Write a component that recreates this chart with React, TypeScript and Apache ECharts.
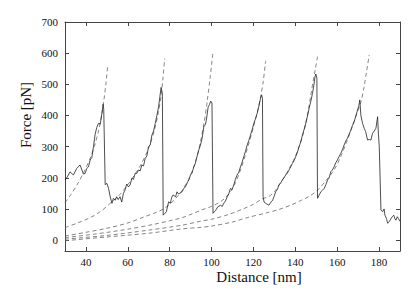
import React, { useEffect, useRef } from "react";
import * as echarts from "echarts";

const distance = [
  30, 31.1, 32.4, 34, 35.6, 37.2, 38.8, 39.6, 40.4, 41.2, 42, 42.8, 43.6, 44.4, 45.2, 46, 46.8, 47.6, 48.2, 48.5,
  49.2, 50, 50.8, 51.6, 52.4, 53.1, 54, 54.7, 55.4, 56.3, 57.1, 57.9, 58.7, 59.5, 60.3, 61.1, 61.9, 62.7, 63.5, 64.3,
  65.1, 65.9, 66.7, 67.5, 68.3, 69.1, 69.9, 70.7, 71.5, 72.3, 73.1, 73.9, 74.7, 75.3, 75.9, 76.5, 76.9, 77.6, 78.4, 79.5,
  80.3, 81, 81.6, 82.8, 83.5, 84.2, 84.8, 85.9, 86.7, 87.5, 88.6, 89.3, 89.9, 90.7, 91.5, 92.2, 92.8, 93.9, 94.7, 95.5,
  96.3, 97, 97.5, 98.4, 99, 99.6, 100.2, 100.7, 101.3, 101.9, 103, 104.3, 105.1, 105.8, 106.6, 107.5, 108.3, 109, 109.8, 110.6,
  111.4, 112.2, 113, 113.8, 114.6, 115.4, 116.2, 117, 117.8, 118.6, 119.4, 120.2, 121, 121.8, 122.6, 123.4, 123.9, 124.3, 124.6, 125.1,
  125.8, 126.6, 127.4, 128.5, 129.2, 129.8, 130.6, 131.4, 132.2, 133, 133.8, 134.6, 135.4, 136.2, 137, 137.8, 138.6, 139.4, 140.2, 141,
  141.8, 142.6, 143.4, 144.2, 145, 145.8, 146.6, 147.4, 148.2, 148.8, 149.4, 149.8, 150.3, 150.6, 151.4, 152.2, 153, 153.8, 154.6, 155.4,
  156.2, 156.9, 157.7, 158.5, 159.3, 160.1, 160.9, 161.7, 162.5, 163.3, 164.1, 164.9, 165.7, 166.5, 167.3, 168.1, 168.9, 169.7, 170.3, 170.8,
  171.3, 172.1, 172.9, 173.6, 174.5, 175.3, 176.1, 176.9, 177.7, 178.5, 179.3, 179.7, 180.1, 180.9, 181.7, 182.4, 182.8, 183.5, 184.1, 184.9,
  185.6, 186.3, 187, 187.6, 188.1, 188.7, 189.2, 190,
];

const force = [
  193, 203, 219, 209, 230, 241, 212, 214, 230, 235, 257, 265, 300, 340, 362, 375, 372, 405, 436, 420,
  178, 182, 166, 139, 118, 134, 128, 139, 130, 139, 122, 150, 161, 180, 171, 177, 198, 195, 214, 214,
  225, 222, 241, 238, 262, 270, 300, 305, 337, 350, 375, 400, 428, 460, 490, 470, 80, 85, 91, 123,
  118, 138, 145, 139, 155, 148, 150, 155, 165, 171, 187, 195, 209, 215, 235, 245, 262, 289, 305, 327,
  364, 370, 385, 428, 435, 446, 440, 86, 91, 95, 107, 112, 108, 118, 125, 139, 150, 166, 162, 177,
  195, 209, 218, 235, 250, 268, 285, 305, 320, 337, 355, 375, 390, 407, 430, 455, 466, 455, 139, 122,
  118, 115, 112, 123, 128, 139, 155, 162, 177, 183, 193, 200, 209, 215, 225, 235, 246, 255, 268, 282,
  300, 315, 337, 355, 375, 398, 423, 445, 471, 495, 524, 533, 520, 134, 145, 155, 160, 166, 178, 193,
  200, 219, 225, 235, 248, 257, 268, 278, 290, 305, 318, 327, 340, 353, 368, 380, 398, 417, 430, 450,
  401, 375, 359, 348, 321, 323, 321, 343, 350, 359, 396, 340, 300, 96, 91, 100, 80, 70, 54, 60,
  68, 75, 80, 68, 64, 75, 70, 60,
];

const fit1: [number, number][] = [
  [30, 120], [33, 148], [36, 180], [39, 218], [42, 262], [44, 300], [46, 350], [47.5, 400], [48.6, 450], [49.6, 505], [50.4, 562],
];
const fit2: [number, number][] = [
  [30, 40], [36, 55], [42, 72], [47, 92], [51.6, 118], [56, 145], [60, 178], [63.5, 212], [66.5, 245], [69, 280],
  [71, 315], [73, 360], [74.6, 410], [75.8, 460], [76.8, 520], [77.6, 583],
];
const fit3: [number, number][] = [
  [30, 13], [40, 25], [50, 38], [60, 55], [68, 75], [74, 90], [77, 100], [80, 115], [83, 135], [86, 160],
  [89, 195], [91.5, 235], [93.2, 272], [94.7, 315], [96.4, 375], [97.9, 445], [99.3, 520], [100.6, 600],
];
const fit4: [number, number][] = [
  [30, 8], [45, 20], [60, 35], [72, 50], [80, 62], [86, 72], [91, 85], [95, 96], [99.5, 107], [103, 118],
  [106, 132], [109, 155], [111.5, 185], [113.8, 225], [116, 270], [118, 315], [120, 362], [121.8, 410], [123.3, 455],
  [124.7, 510], [125.8, 575],
];
const fit5: [number, number][] = [
  [30, 3], [50, 15], [70, 32], [86, 48], [95, 61], [100, 67], [108, 82], [115, 100], [120, 115], [124.2, 132],
  [127.4, 140], [130, 155], [132.5, 180], [135, 205], [137.5, 235], [139.8, 265], [141.8, 300], [143.5, 335],
  [145, 375], [146.3, 420], [147.4, 465], [148.5, 510], [149.6, 550], [150.6, 589],
];
const fit6: [number, number][] = [
  [30, -2], [50, 10], [70, 22], [86, 36], [95, 41], [100, 45], [110, 58], [117, 72], [126.6, 88], [132, 98],
  [137.8, 112], [143, 128], [147, 142], [150.6, 160], [154.5, 190], [158.5, 225], [161.5, 265], [164.5, 315],
  [167, 360], [169.3, 405], [171.3, 442], [172.8, 490], [174, 540], [175.3, 594],
];

const xTicks = [40, 60, 80, 100, 120, 140, 160, 180];
const yTicks = [0, 100, 200, 300, 400, 500, 600, 700];
const xTitle = "Distance [nm]";
const yTitle = "Force [pN]";

export default function App() {
  const ref = useRef<HTMLDivElement>(null);
  useEffect(() => {
    document.body.style.margin = "0";
    const chart = echarts.init(ref.current!, null, { renderer: "svg" });
    const font = "Times New Roman, Liberation Serif, DejaVu Serif, serif";
    const axisColor = "#444";
    const mkX = (pos: "bottom" | "top", labels: boolean) => ({
      type: "value",
      min: 30,
      max: 190,
      position: pos,
      axisLine: { show: true, onZero: false, lineStyle: { color: axisColor, width: 1 } },
      axisTick: { show: true, inside: true, length: 4, customValues: xTicks, lineStyle: { color: axisColor } },
      axisLabel: {
        show: labels,
        customValues: xTicks,
        fontFamily: font,
        fontSize: 11,
        color: "#111",
        margin: 5,
      },
      splitLine: { show: false },
    });
    const mkY = (pos: "left" | "right", labels: boolean) => ({
      type: "value",
      min: -35,
      max: 700,
      position: pos,
      axisLine: { show: true, onZero: false, lineStyle: { color: axisColor, width: 1 } },
      axisTick: { show: true, inside: true, length: 4, customValues: yTicks, lineStyle: { color: axisColor } },
      axisLabel: {
        show: labels,
        customValues: yTicks,
        fontFamily: font,
        fontSize: 11,
        color: "#111",
        margin: 7,
      },
      splitLine: { show: false },
    });
    const fits = [fit1, fit2, fit3, fit4, fit5, fit6];
    chart.setOption({
      animation: false,
      backgroundColor: "#fff",
      grid: { left: 65, right: 15, top: 22, bottom: 42 },
      xAxis: [mkX("bottom", true), mkX("top", false)],
      yAxis: [mkY("left", true), mkY("right", false)],
      graphic: [
        {
          type: "text",
          x: 259,
          y: 277,
          style: { text: xTitle, fontFamily: font, fontSize: 15, fill: "#111", align: "center", verticalAlign: "middle" },
        },
        {
          type: "text",
          x: 26,
          y: 115,
          rotation: Math.PI / 2,
          style: { text: yTitle, fontFamily: font, fontSize: 15, fill: "#111", align: "center", verticalAlign: "middle" },
        },
      ],
      series: [
        ...fits.map((f) => ({
          type: "line",
          data: f,
          showSymbol: false,
          smooth: 0.3,
          silent: true,
          lineStyle: { color: "#666", width: 0.8, type: [4, 3] },
          z: 2,
        })),
        {
          type: "line",
          data: distance.map((d, i) => [d, force[i]]),
          showSymbol: false,
          silent: true,
          lineStyle: { color: "#222", width: 0.8 },
          z: 3,
        },
      ],
    });
    return () => chart.dispose();
  }, []);
  return <div ref={ref} style={{ width: 415, height: 293 }} />;
}
